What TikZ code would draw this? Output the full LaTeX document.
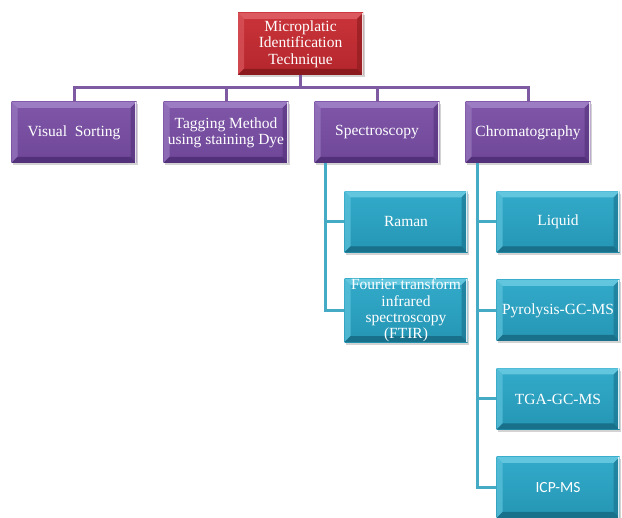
\documentclass[tikz,border=0pt]{standalone}
\usepackage{fontspec}
\setmainfont{Liberation Serif}
\newfontfamily\calfont{Carlito}
\usetikzlibrary{shadows}
\definecolor{redT}{HTML}{C9343A}
\definecolor{redB}{HTML}{B4262C}
\definecolor{redL}{HTML}{DC5A5F}
\definecolor{redD}{HTML}{8A1A1E}
\definecolor{purT}{HTML}{7F56A8}
\definecolor{purB}{HTML}{6F4798}
\definecolor{purL}{HTML}{9C7CC2}
\definecolor{purD}{HTML}{52307A}
\definecolor{bluT}{HTML}{33AACA}
\definecolor{bluB}{HTML}{2596B4}
\definecolor{bluL}{HTML}{62C6DE}
\definecolor{bluD}{HTML}{18708A}
\definecolor{plineC}{HTML}{7E5AA2}
\definecolor{blineC}{HTML}{45AAC4}
\tikzset{
  basebox/.style={rectangle, inner sep=0pt, text=white, align=center,
    font=\fontsize{15.5}{16.3}\selectfont,
    drop shadow={shadow xshift=1.5pt, shadow yshift=-2.5pt, opacity=0.35}},
  bevel/.style 2 args={path picture={
    \fill[#1] (path picture bounding box.north west) -- (path picture bounding box.north east)
      -- ([shift={(-6pt,-6pt)}]path picture bounding box.north east)
      -- ([shift={(6pt,-6pt)}]path picture bounding box.north west) -- cycle;
    \fill[#1, opacity=0.65] (path picture bounding box.north west) -- (path picture bounding box.south west)
      -- ([shift={(6pt,6pt)}]path picture bounding box.south west)
      -- ([shift={(6pt,-6pt)}]path picture bounding box.north west) -- cycle;
    \fill[#2] (path picture bounding box.south west) -- (path picture bounding box.south east)
      -- ([shift={(-6pt,6pt)}]path picture bounding box.south east)
      -- ([shift={(6pt,6pt)}]path picture bounding box.south west) -- cycle;
    \fill[#2, opacity=0.6] (path picture bounding box.north east) -- (path picture bounding box.south east)
      -- ([shift={(-6pt,6pt)}]path picture bounding box.south east)
      -- ([shift={(-6pt,-6pt)}]path picture bounding box.north east) -- cycle;
    \draw[white, opacity=0.85, line width=1.2pt] ([xshift=-0.6pt]path picture bounding box.north east) -- ([xshift=-0.6pt]path picture bounding box.south east);
  }},
  redbox/.style={basebox, top color=redT, bottom color=redB, bevel={redL}{redD},
    minimum width=125pt, minimum height=62pt},
  purbox/.style={basebox, top color=purT, bottom color=purB, bevel={purL}{purD},
    minimum width=125pt, minimum height=61pt},
  blubox/.style={basebox, top color=bluT, bottom color=bluB, bevel={bluL}{bluD},
    minimum width=123pt, minimum height=61pt},
  pline/.style={draw=plineC, line width=3pt},
  bline/.style={draw=blineC, line width=3pt},
}
\begin{document}
\begin{tikzpicture}[x=1pt,y=-1pt]
\useasboundingbox (0,0) rectangle (622,518);
% top
\node[redbox] (top) at (300.5,44) {Microplatic\\Identification\\Technique};
% level 1
\node[purbox] (vs) at (74,132.5) {Visual\ \ Sorting};
\node[purbox] (tag) at (226,132.5) {Tagging Method\\using staining Dye};
\node[purbox] (spec) at (377,132.5) {Spectroscopy};
\node[purbox] (chrom) at (528,132.5) {Chromatography};
% level 2
\node[blubox] (raman) at (406,222) {Raman};
\node[blubox] (ftir) at (406,310.5) {Fourier transform\\infrared\\spectroscopy\\(FTIR)};
\node[blubox] (liq) at (558,222) {Liquid};
\node[blubox] (pyro) at (558,310.5) {Pyrolysis-GC-MS};
\node[blubox] (tga) at (558,399) {TGA-GC-MS};
\node[blubox] (icp) at (558,487.5) {\calfont ICP-MS};
% connectors
\coordinate (bar) at (300.5,88);
\foreach \n in {vs,tag,spec,chrom}{
  \draw[pline] (top.south) -- (bar) -| (\n.north);
}
\foreach \n in {raman,ftir}{
  \draw[bline] ([xshift=11pt]spec.south west) |- (\n.west);
}
\foreach \n in {liq,pyro,tga,icp}{
  \draw[bline] ([xshift=12pt]chrom.south west) |- (\n.west);
}
\end{tikzpicture}
\end{document}
